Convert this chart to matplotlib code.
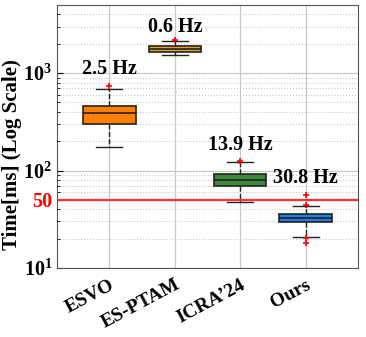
import numpy as np
import matplotlib.pyplot as plt
from matplotlib.ticker import FixedLocator, NullFormatter

plt.rcParams['font.family'] = ['Liberation Serif', 'DejaVu Serif']
plt.rcParams['font.weight'] = 'bold'
plt.rcParams['mathtext.fontset'] = 'custom'
plt.rcParams['mathtext.rm'] = 'Liberation Serif:bold'
plt.rcParams['mathtext.bf'] = 'Liberation Serif:bold'

# data (runtime in ms)
methods = ['ESVO', 'ES-PTAM', "ICRA’24", 'Ours']
medians = [386, 1762, 80, 32.4]
q1 = [302, 1650, 69.3, 29.4]
q3 = [462, 1880, 92, 35.6]
whisker_low = [175, 1530, 47.2, 20.8]
whisker_high = [690, 2143, 121, 43.5]
outliers = [[736], [2180], [124], [44.6, 56.5, 20.2, 17.9]]
rates = ['2.5 Hz', '0.6 Hz', '13.9 Hz', '30.8 Hz']
label_y = [1100, 2950, 183, 84]
colors = ['#FF8000', '#E0A526', '#3B8A3B', '#1F7FE0']
threshold = 50

stats = []
for i, m in enumerate(methods):
    stats.append({'label': m, 'med': medians[i], 'q1': q1[i], 'q3': q3[i],
                  'whislo': whisker_low[i], 'whishi': whisker_high[i],
                  'fliers': outliers[i]})

fig = plt.figure(figsize=(3.66, 3.37), dpi=100)
ax = fig.add_axes([0.156, 0.205, 0.822, 0.78])

pos = np.arange(1, len(methods) + 1)
bp = ax.bxp(stats, positions=pos, widths=0.8, patch_artist=True,
            boxprops=dict(edgecolor='#222222', linewidth=1.2),
            medianprops=dict(color='#222222', linewidth=1.2),
            whiskerprops=dict(color='#222222', linestyle='--', linewidth=1.0),
            capprops=dict(color='#222222', linewidth=1.0),
            flierprops=dict(marker='+', markeredgecolor='red', markersize=5,
                            markeredgewidth=1.2, linestyle='none'),
            capwidths=0.4, zorder=3)
for patch, c in zip(bp['boxes'], colors):
    patch.set_facecolor(c)

ax.axhline(threshold, color='#FF3030', linewidth=1.6, zorder=2)

for x, txt, y in zip(pos, rates, label_y):
    ax.text(x, y, txt, ha='center', va='center', fontsize=14.5, fontweight='bold', zorder=4)

ax.set_yscale('log')
ax.set_ylim(10, 5000)
ax.set_xlim(0.2, 4.8)

ax.yaxis.set_major_locator(FixedLocator([10, threshold, 100, 1000]))
ax.set_yticklabels([r'$\mathbf{10^1}$', '50', r'$\mathbf{10^2}$', r'$\mathbf{10^3}$'])
ax.get_yticklabels()[1].set_color('red')
ax.yaxis.set_minor_formatter(NullFormatter())
ax.tick_params(axis='y', labelsize=14.5, direction='in', length=4)
ax.tick_params(axis='y', which='minor', direction='in', length=2)
ax.tick_params(axis='x', direction='in', length=0, pad=6)

ax.set_xticks(pos)
ax.set_xticklabels(methods, rotation=28, ha='right', rotation_mode='anchor',
                   fontsize=14, fontweight='bold')

ax.grid(True, which='major', color='#C8C8C8', linewidth=0.9, zorder=0)
ax.grid(True, which='minor', axis='y', color='#C8C8C8', linestyle=':', linewidth=0.8, zorder=0)
ax.set_axisbelow(True)

for s in ax.spines.values():
    s.set_color('#555555')
    s.set_linewidth(0.8)

ax.set_ylabel('Time[ms] (Log Scale)', fontsize=15, fontweight='bold')
ax.yaxis.set_label_coords(-0.115, 0.43)

fig.savefig('out.png', dpi=100)
